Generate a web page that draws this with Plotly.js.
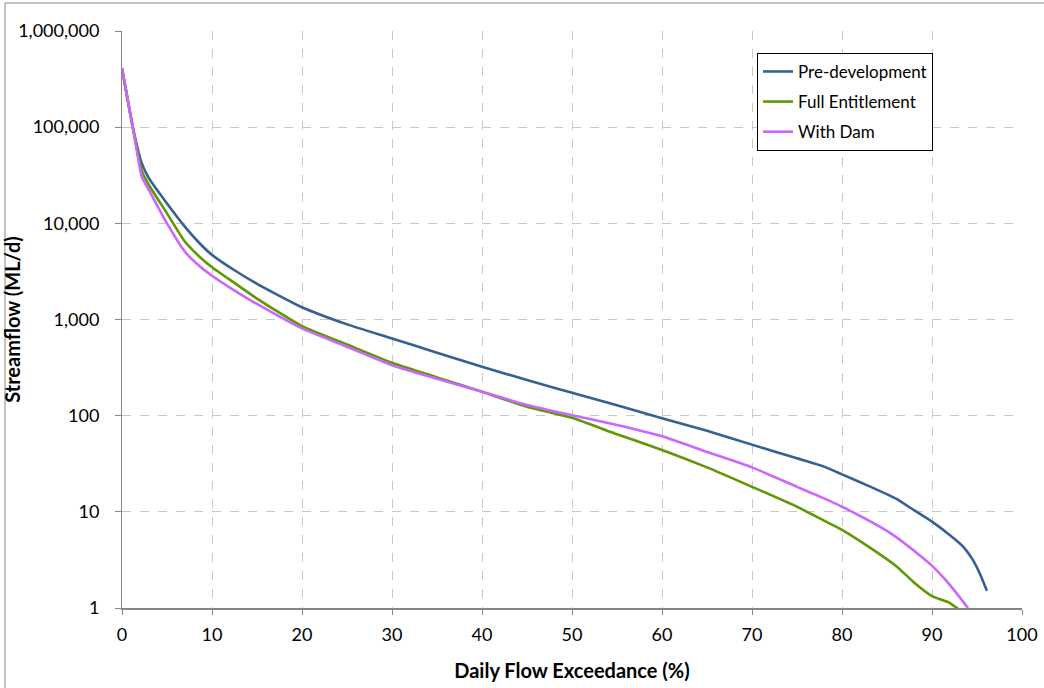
<!DOCTYPE html>
<html>
<head>
<meta charset="utf-8">
<script src="https://cdn.plot.ly/plotly-3.0.1.min.js"></script>
<style>
html,body{margin:0;padding:0;background:#fff;}
#chart{width:1044px;height:688px;}
</style>
</head>
<body>
<div id="chart"></div>
<script>
// Series data
var preDevX = [0, 1.2, 2.2, 3, 5, 7, 8.7, 10, 12.5, 15, 20, 25, 30, 35, 40, 45, 50, 55, 60, 65, 70, 75, 78, 80, 83, 86, 88, 90, 92, 93.5, 94.5, 95.3, 96.1];
var preDevY = [410000, 100000, 42000, 29300, 16100, 9200, 6100, 4700, 3250, 2350, 1340, 890, 636, 452, 322, 235, 173, 128, 94, 69.7, 50, 36, 29.5, 24.5, 18.5, 13.7, 10.4, 7.9, 5.7, 4.3, 3.2, 2.3, 1.51];

var fullEntX = [0, 1.2, 2.2, 3, 5, 7, 8.7, 10, 12.5, 15, 20, 25, 30, 35, 40, 45, 50, 55, 60, 65, 70, 75, 78, 80, 83.4, 86.1, 87.9, 90, 91.8, 93.1];
var fullEntY = [410000, 100000, 35000, 24900, 12700, 6430, 4420, 3500, 2400, 1650, 853, 550, 355, 250, 177, 124, 95, 64, 44, 29, 18.2, 11.3, 8.1, 6.5, 4.07, 2.69, 1.88, 1.33, 1.15, 0.95];

var withDamX = [0, 1.2, 2.2, 3, 5, 7, 8.7, 10, 12.5, 15, 20, 25, 30, 35, 40, 45, 50, 55, 60, 65, 70, 75, 78, 80, 84.2, 86.1, 87.9, 90.1, 92, 94];
var withDamY = [410000, 100000, 30500, 22100, 10000, 5060, 3530, 2850, 2000, 1450, 808, 520, 335, 242, 177, 129, 101, 80, 61, 42, 29, 18.2, 13.8, 11.3, 7.0, 5.4, 4.0, 2.69, 1.73, 1.0];

var seriesNames = ["Pre-development", "Full Entitlement", "With Dam"];
var yTickVals = [1, 10, 100, 1000, 10000, 100000, 1000000];
var yTickText = ["1", "10", "100", "1,000", "10,000", "100,000", "1,000,000"];
var xTickVals = [0, 10, 20, 30, 40, 50, 60, 70, 80, 90, 100];

var FONT = "Lato, 'Open Sans', sans-serif";

function mk(x, y, name, color, grp) {
  return {
    x: x, y: y, name: name, type: "scatter", mode: "lines",
    legendgroup: grp,
    line: {color: color, width: 2.6, shape: "spline", smoothing: 0.5},
    hoverinfo: "x+y+name"
  };
}

var data = [
  mk(preDevX, preDevY, seriesNames[0], "#376092", "a"),
  mk(fullEntX, fullEntY, seriesNames[1], "#5F9800", "b"),
  mk(withDamX, withDamY, seriesNames[2], "#CC66FF", "c")
];

var layout = {
  width: 1044, height: 688,
  margin: {l: 122, r: 22, t: 31, b: 80},
  paper_bgcolor: "#ffffff",
  plot_bgcolor: "#ffffff",
  font: {family: FONT, size: 17, color: "#000000"},
  showlegend: true,
  legend: {
    x: 0.7056, y: 0.962, xanchor: "left", yanchor: "top",
    bgcolor: "#ffffff", bordercolor: "#000000", borderwidth: 1,
    font: {family: FONT, size: 17, color: "#000000"},
    traceorder: "grouped", tracegroupgap: 5,
    itemwidth: 30
  },
  xaxis: {
    range: [0, 100],
    tickvals: xTickVals,
    showgrid: true, gridcolor: "#C8C8C8", griddash: "dash", gridwidth: 1,
    showline: true, linecolor: "#868686", linewidth: 2,
    ticks: "outside", ticklen: 5, tickcolor: "#868686", tickwidth: 1,
    ticklabelstandoff: 4,
    zeroline: false,
    tickfont: {family: FONT, size: 18, color: "#000000"},
    title: {text: "<b>Daily Flow Exceedance (%)</b>", font: {family: FONT, size: 20, color: "#000000"}, standoff: 20}
  },
  yaxis: {
    type: "log",
    range: [0, 6],
    tickvals: yTickVals, ticktext: yTickText,
    showgrid: true, gridcolor: "#C8C8C8", griddash: "dash", gridwidth: 1,
    showline: true, linecolor: "#868686", linewidth: 1,
    ticks: "outside", ticklen: 6, tickcolor: "#868686", tickwidth: 1,
    ticklabelstandoff: 12,
    zeroline: false,
    tickfont: {family: FONT, size: 18, color: "#000000"},
    title: {text: "<b>Streamflow (ML/d)</b>", font: {family: FONT, size: 20, color: "#000000"}, standoff: 0}
  },
  shapes: [{
    type: "rect", xref: "paper", yref: "paper",
    x0: -0.13, x1: 1.05, y0: -0.2, y1: 1.0485,
    line: {color: "#868686", width: 1}, fillcolor: "rgba(0,0,0,0)",
    layer: "below"
  }]
};

Plotly.newPlot("chart", data, layout, {displayModeBar: false, staticPlot: true});
</script>
</body>
</html>
